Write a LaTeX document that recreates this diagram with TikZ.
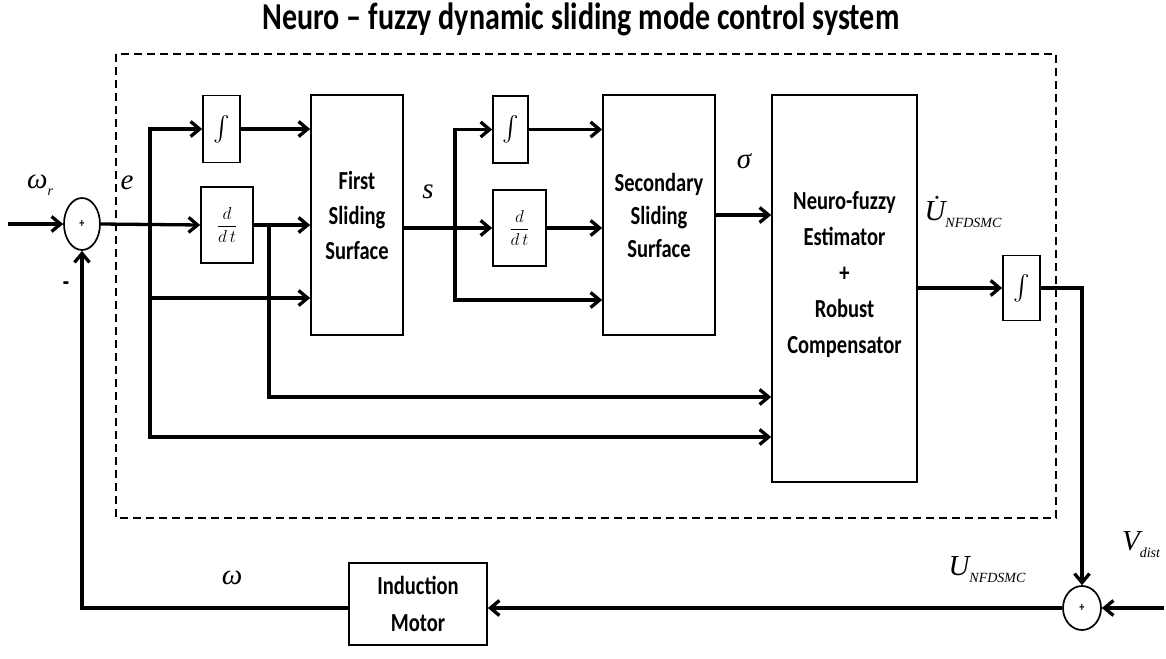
\documentclass[tikz,border=0pt]{standalone}
\usepackage{exscale}
\usepackage{fontspec}
\setmainfont{Liberation Serif}
\newfontfamily\blockfont{Carlito}[FakeStretch=0.79]
\usetikzlibrary{arrows.meta,shapes.geometric,calc}
\newcommand{\mlab}[1]{{\fontsize{29}{30}\selectfont\itshape #1}}
\newcommand{\msub}[1]{\raisebox{-7pt}{\fontsize{14}{14}\selectfont\itshape #1}}
\newcommand{\ddt}{\fontsize{19}{19}\selectfont$\displaystyle\frac{d}{d\,t}$}
\newcommand{\intg}{\fontsize{30}{30}\selectfont$\int$}
\begin{document}
\begin{tikzpicture}[x=1pt,y=-1pt,
  blk/.style={draw,line width=1.7pt,inner sep=0pt,align=center,
     font=\blockfont\bfseries\fontsize{26}{35}\selectfont},
  sumnode/.style={draw,ellipse,line width=1.7pt,inner sep=0pt,
     font=\blockfont\bfseries\fontsize{13}{13}\selectfont},
  sig/.style={line width=3.3pt,-{Straight Barb[length=9pt,width=15pt]}},
  lbl/.style={inner sep=0pt}]
\useasboundingbox (0,0) rectangle (1166,658);
% title
\node[lbl,font=\blockfont\bfseries\fontsize{38}{40}\selectfont] (title) at (581,19) {Neuro – fuzzy dynamic sliding mode control system};
% dashed frame
\draw[line width=1.6pt,dash pattern=on 8pt off 5pt] (116,54) rectangle (1056,518);
% blocks
\node[sumnode,minimum width=36pt,minimum height=52pt] (sum1) at (82,224) {+};
\node[blk,minimum width=37pt,minimum height=67pt] (int1) at (221.5,129) {\intg};
\node[blk,minimum width=52pt,minimum height=76pt] (dd1) at (227,225) {\ddt};
\node[blk,minimum width=92pt,minimum height=240pt] (fss) at (357,215) {First\\Sliding\\Surface};
\node[blk,minimum width=35pt,minimum height=67pt] (int2) at (510.5,129.5) {\intg};
\node[blk,minimum width=53pt,minimum height=76pt] (dd2) at (519.5,228) {\ddt};
\node[blk,minimum width=112pt,minimum height=240pt,font=\blockfont\bfseries\fontsize{26}{33}\selectfont] (sss) at (659,215) {Secondary\\Sliding\\Surface};
\node[blk,minimum width=145pt,minimum height=387pt,font=\blockfont\bfseries\fontsize{26}{36}\selectfont] (nf) at (844.5,288.5) {Neuro-fuzzy\\Estimator\\+\\Robust\\Compensator\\[-14pt]\strut};
\node[blk,minimum width=37pt,minimum height=65pt] (int3) at (1021.5,288) {\intg};
\node[sumnode,minimum width=38pt,minimum height=44pt] (sum2) at (1082,608) {+};
\node[blk,minimum width=138pt,minimum height=82pt,font=\blockfont\bfseries\fontsize{26}{37}\selectfont] (im) at (418,604) {Induction\\Motor};
% labels
\node[lbl] (lwr) at (40,185) {\mlab{ω}\msub{r}};
\node[lbl] (le) at (127,183) {\mlab{e}};
\node[lbl,font=\blockfont\bfseries\fontsize{26}{26}\selectfont] (lminus) at (66,286) {-};
\node[lbl] (ls) at (428,192) {\mlab{s}};
\node[lbl] (lsig) at (744,161) {\mlab{σ}};
\node[lbl] (lud) at (963,212) {\mlab{\.U}\msub{NFDSMC}};
\node[lbl] (lu) at (987,570) {\mlab{U}\msub{NFDSMC}};
\node[lbl] (lv) at (1141,545) {\mlab{V}\msub{dist}};
\node[lbl] (lw) at (232,578) {\mlab{ω}};
% coordinates
\coordinate (in1) at (8,224);
\coordinate (b1) at (150,224);
\coordinate (b2) at (269,225);
\coordinate (b3) at (455,228);
\coordinate (c3) at (1082,288);
\coordinate (vin) at (1164,608);
\coordinate (fb) at (82,608);
% connectors
\draw[sig] (in1) -- (sum1.west);
\draw[sig] (sum1.east) -- (dd1.west);
\draw[sig] (b1) |- (int1.west);
\draw[sig] (b1) |- ($(fss.west)+(0,83)$);
\draw[sig] (b1) |- ($(nf.west)+(0,148.5)$);
\draw[sig] (int1.east) -- (int1.east -| fss.west);
\draw[sig] (dd1.east) -- (dd1.east -| fss.west);
\draw[sig] (b2) |- ($(nf.west)+(0,108.5)$);
\draw[sig] ($(fss.east)+(0,13)$) -- (dd2.west);
\draw[sig] (b3) |- (int2.west);
\draw[sig] (b3) |- ($(sss.west)+(0,85)$);
\draw[sig] (int2.east) -- (int2.east -| sss.west);
\draw[sig] (dd2.east) -- (dd2.east -| sss.west);
\draw[sig] (sss.east) -- (sss.east -| nf.west);
\draw[sig] (nf.east |- int3.west) -- (int3.west);
\draw[sig] (int3.east) -- (c3) -- (sum2.north);
\draw[sig] (vin) -- (sum2.east);
\draw[sig] (sum2.west) -- (im.east |- sum2.west);
\draw[sig] (im.west |- fb) -- (fb) -- (sum1.south);
\end{tikzpicture}
\end{document}
